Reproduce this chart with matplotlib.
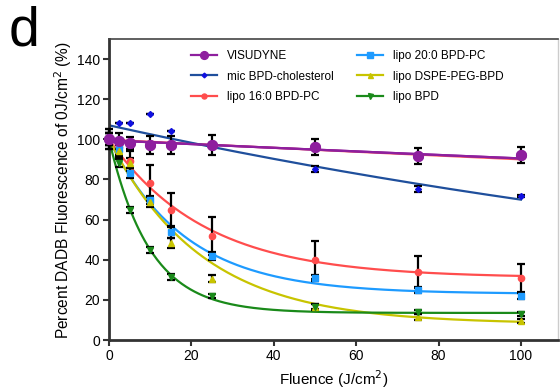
import numpy as np
import matplotlib
matplotlib.use("Agg")
import matplotlib.pyplot as plt

plt.rcParams["font.family"] = ["Liberation Sans", "DejaVu Sans"]

fluence = [0, 2.5, 5, 10, 15, 25, 50, 75, 100]

# measured points (mean, error)
visudyne = [100, 99, 98, 97.3, 97.3, 97, 96.3, 91.5, 92]
visudyne_err = [3, 4, 3, 4.5, 4.5, 5, 4, 4, 4]
mic_chol = [100, 108, 108, 112.7, 104, 97, 85, 75.5, 72]
mic_chol_err = [5, 0, 0, 0, 0, 1, 1.5, 1.5, 0.5]
lipo160 = [100, 96, 89, 78.3, 64.7, 52, 40, 34, 31]
lipo160_err = [5, 4, 5, 9, 8.5, 9.5, 9.5, 8, 7]
lipo200 = [100, 95, 83.3, 69.7, 54, 41.7, 30.8, 25, 22]
lipo200_err = [3, 3, 2.5, 2, 3, 2, 1.5, 1.5, 1.5]
dspe = [100, 94, 88, 69, 48.3, 30.5, 16.3, 11.5, 9.5]
dspe_err = [3, 3, 2.5, 2.5, 2.5, 1.8, 1.5, 1.5, 1]
lipo_bpd = [100, 88, 65, 45, 31.2, 21.7, 16.7, 14.2, 13]
lipo_bpd_err = [3, 2, 1.5, 1.5, 1.5, 1, 1, 1, 1]

# one-phase decay fits: (start, plateau, rate)
fit_visudyne = (99.5, 0, 0.00095)
fit_visudyne_red = (99.8, 0, 0.00103)
fit_mic = (107, 0, 0.00425)
fit_160 = (100, 31, 0.043)
fit_200 = (100, 23, 0.054)
fit_dspe = (100, 8, 0.0444)
fit_bpd = (100, 13.5, 0.101)

labels = ["VISUDYNE", "mic BPD-cholesterol", "lipo 16:0 BPD-PC",
          "lipo 20:0 BPD-PC", "lipo DSPE-PEG-BPD", "lipo BPD"]


def decay(p, x):
    y0, plateau, k = p
    return plateau + (y0 - plateau) * np.exp(-k * x)


fig = plt.figure(figsize=(5.6, 3.91), dpi=100)
ax = fig.add_axes([0.1946, 0.1304, 0.8018, 0.7698])

xs = np.linspace(0, 100, 300)

series = [
    (visudyne, visudyne_err, fit_visudyne, "#8e1f9e", "#8e1f9e", "o", 7),
    (mic_chol, mic_chol_err, fit_mic, "#1f4f9c", "#1010e0", "D", 3),
    (lipo160, lipo160_err, fit_160, "#ff4d4d", "#ff4d4d", "o", 4.5),
    (lipo200, lipo200_err, fit_200, "#1e9bff", "#1e9bff", "s", 5),
    (dspe, dspe_err, fit_dspe, "#c8c400", "#c8c400", "^", 4.5),
    (lipo_bpd, lipo_bpd_err, fit_bpd, "#1a8a1a", "#1a8a1a", "v", 4.5),
]

ax.plot(xs, decay(fit_visudyne_red, xs), color="#ff5a5a", lw=1.6, zorder=2)

handles = []
for (vals, err, fit, lc, mc, mk, ms), lab in zip(series, labels):
    ax.errorbar(fluence, vals, yerr=err, fmt="none", ecolor="black",
                elinewidth=1.6, capsize=3, capthick=1.6, zorder=3, clip_on=False)
    ax.plot(xs, decay(fit, xs), color=lc, lw=1.6, zorder=2)
    ax.plot(fluence, vals, linestyle="none", marker=mk, ms=ms, color=mc,
            zorder=4, clip_on=False)
    h, = ax.plot([], [], color=lc, lw=1.6, marker=mk, ms=ms * 0.8,
                 markerfacecolor=mc, markeredgecolor=mc)
    handles.append(h)

# redraw VISUDYNE on top
ax.plot(xs, decay(fit_visudyne, xs), color="#8e1f9e", lw=1.6, zorder=5)
ax.plot(fluence, visudyne, linestyle="none", marker="o", ms=7,
        color="#8e1f9e", zorder=6, clip_on=False)

ax.set_xlim(0, 109)
ax.set_ylim(0, 150)
ax.set_xticks([0, 20, 40, 60, 80, 100])
ax.set_yticks([0, 20, 40, 60, 80, 100, 120, 140])
ax.tick_params(labelsize=10, width=1.5, length=4.5, pad=2, color="#333333")

for s in ["left", "bottom"]:
    ax.spines[s].set_linewidth(2)
    ax.spines[s].set_color("#333333")
ax.spines["top"].set_linewidth(1.2)
ax.spines["top"].set_color("#444444")
ax.spines["right"].set_linewidth(1)
ax.spines["right"].set_color("#cccccc")

ax.set_xlabel("Fluence (J/cm$^2$)", fontsize=11)
ax.xaxis.set_label_coords(0.5, -0.093)
ax.set_ylabel("Percent DADB Fluorescence of 0J/cm$^2$ (%)", fontsize=11.2)
ax.yaxis.set_label_coords(-0.079, 0.5)

ax.legend(handles, labels, ncol=2, loc="upper left",
          bbox_to_anchor=(0.16, 1.0), frameon=False, fontsize=8.5,
          handlelength=2.2, columnspacing=2.0, labelspacing=0.75,
          handletextpad=0.8)

fig.text(0.015, 0.985, "d", fontsize=40, va="top", ha="left")

fig.savefig("out.png", dpi=100)
